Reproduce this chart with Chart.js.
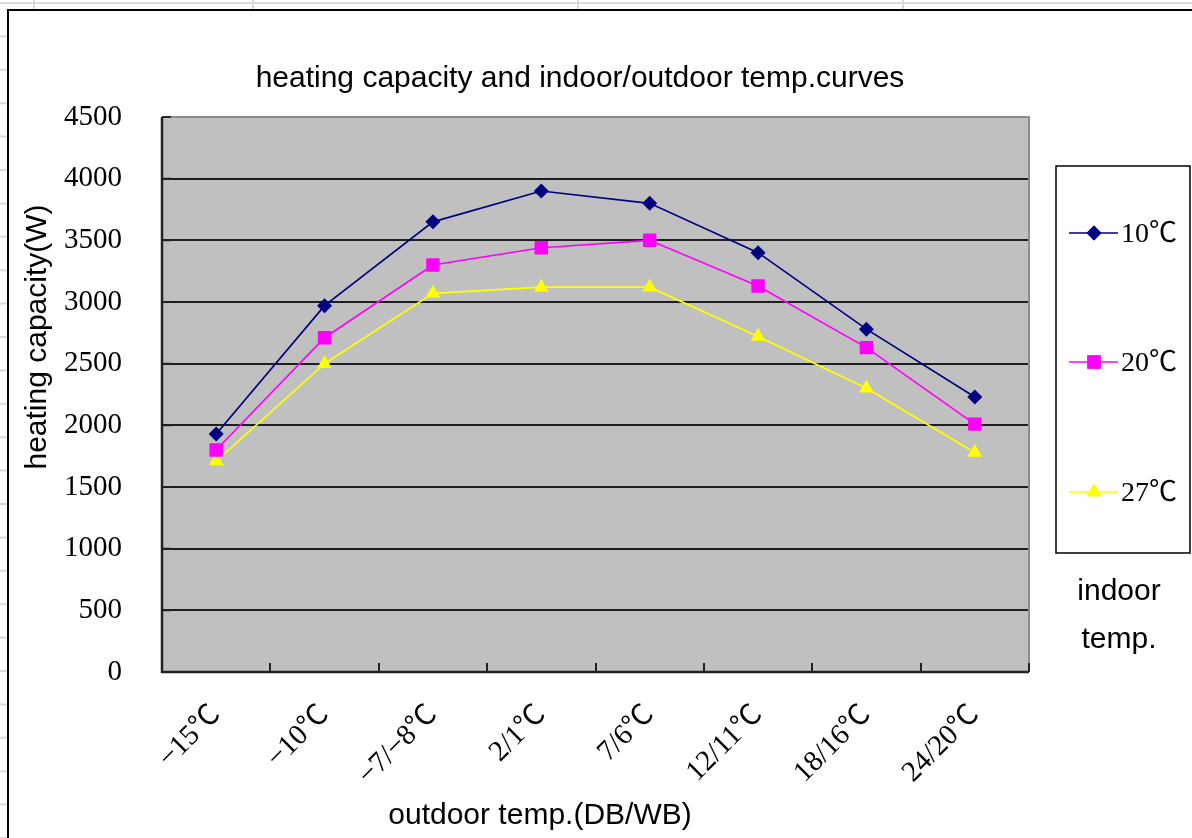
<!DOCTYPE html>
<html><head><meta charset="utf-8">
<script src="https://cdn.jsdelivr.net/npm/chart.js@4.4.1/dist/chart.umd.min.js"></script>
<style>html,body{margin:0;padding:0;background:#fff;overflow:hidden}#wrap{width:1192px;height:838px;position:relative}canvas{display:block}</style>
</head><body><div id="wrap"><canvas id="c" width="1192" height="838"></canvas></div>
<script>
// ---- data ----
const categories = ['−15℃', '−10℃', '−7/−8℃', '2/1℃', '7/6℃', '12/11℃', '18/16℃', '24/20℃'];
const seriesNames = ['10℃', '20℃', '27℃'];
const cap10 = [1930, 2970, 3650, 3900, 3800, 3400, 2780, 2230];
const cap20 = [1800, 2710, 3300, 3440, 3500, 3130, 2630, 2010];
const cap27 = [1710, 2500, 3070, 3120, 3120, 2720, 2300, 1780];
const yMin = 0, yMax = 4500, yStep = 500;
const chartTitle = 'heating capacity and indoor/outdoor temp.curves';
const yTitle = 'heating capacity(W)';
const xTitle = 'outdoor temp.(DB/WB)';
const legendTitle = ['indoor', 'temp.'];

const SANS = '"Liberation Sans", Arial, sans-serif';
const SERIF = '"Liberation Serif", "Times New Roman", "Noto Sans CJK SC", serif';

const decor = {
  id: 'decor',
  beforeDraw(chart) {
    const ctx = chart.ctx, a = chart.chartArea;
    ctx.save();
    ctx.fillStyle = '#fff';
    ctx.fillRect(0, 0, chart.width, chart.height);
    // spreadsheet grid behind the chart object
    ctx.strokeStyle = '#d9d9d9';
    ctx.lineWidth = 2;
    ctx.beginPath();
    ctx.moveTo(0, 3); ctx.lineTo(chart.width, 3);
    [34, 253, 578, 903].forEach(x => { ctx.moveTo(x, 0); ctx.lineTo(x, 9); });
    for (let y = 36.4; y < chart.height; y += 33.4) { ctx.moveTo(0, y); ctx.lineTo(8, y); }
    ctx.stroke();
    // chart object border
    ctx.strokeStyle = '#000';
    ctx.lineWidth = 2;
    ctx.beginPath();
    ctx.moveTo(8, chart.height); ctx.lineTo(8, 10); ctx.lineTo(chart.width, 10);
    ctx.stroke();
    // plot area fill
    ctx.fillStyle = '#c0c0c0';
    ctx.fillRect(a.left, a.top, a.right - a.left, a.bottom - a.top);
    ctx.restore();
  },
  beforeDatasetsDraw(chart) {
    const ctx = chart.ctx, a = chart.chartArea;
    const xs = chart.scales.x, ys = chart.scales.y;
    ctx.save();
    // gray top/right frame
    ctx.strokeStyle = '#8c8c8c';
    ctx.lineWidth = 2;
    ctx.beginPath();
    ctx.moveTo(a.left, a.top); ctx.lineTo(a.right, a.top); ctx.lineTo(a.right, a.bottom);
    ctx.stroke();
    // axis lines
    ctx.strokeStyle = '#222';
    ctx.lineWidth = 2.5;
    ctx.beginPath();
    ctx.moveTo(a.left, a.top); ctx.lineTo(a.left, a.bottom); ctx.lineTo(a.right, a.bottom);
    ctx.stroke();
    // inside tick marks
    ctx.lineWidth = 2;
    ctx.beginPath();
    const half = (xs.getPixelForValue(1) - xs.getPixelForValue(0)) / 2;
    for (let i = 0; i <= categories.length; i++) {
      const x = Math.round(xs.getPixelForValue(0) - half + i * 2 * half);
      ctx.moveTo(x, a.bottom); ctx.lineTo(x, a.bottom - 9);
    }
    for (let v = yMin; v <= yMax; v += yStep) {
      const y = ys.getPixelForValue(v);
      ctx.moveTo(a.left, y); ctx.lineTo(a.left + 9, y);
    }
    ctx.stroke();
    ctx.restore();
  },
  afterDraw(chart) {
    const ctx = chart.ctx;
    ctx.save();
    ctx.fillStyle = '#000';
    ctx.textAlign = 'center';
    ctx.textBaseline = 'alphabetic';
    ctx.font = '30px ' + SANS;
    ctx.fillText(chartTitle, 580, 87);
    ctx.fillText(xTitle, 540, 824);
    ctx.fillText(legendTitle[0], 1119, 600);
    ctx.fillText(legendTitle[1], 1119, 648);
    ctx.save();
    ctx.translate(46, 337);
    ctx.rotate(-Math.PI / 2);
    ctx.fillText(yTitle, 0, 0);
    ctx.restore();
    // legend box
    ctx.strokeStyle = '#000';
    ctx.lineWidth = 1.5;
    ctx.fillStyle = '#fff';
    ctx.fillRect(1056, 166, 134, 387);
    ctx.strokeRect(1056, 166, 134, 387);
    const rows = [233, 362, 492];
    chart.data.datasets.forEach((ds, i) => {
      const y = rows[i];
      ctx.strokeStyle = ds.borderColor;
      ctx.lineWidth = ds.borderWidth;
      ctx.beginPath(); ctx.moveTo(1069, y); ctx.lineTo(1118, y); ctx.stroke();
      ctx.fillStyle = ds.pointBackgroundColor;
      Chart.helpers.drawPoint(ctx, { pointStyle: ds.pointStyle, radius: ds.pointRadius, rotation: 0, borderWidth: 0 }, 1094, y);
      ctx.fill();
      ctx.fillStyle = '#000';
      ctx.textAlign = 'left';
      ctx.textBaseline = 'middle';
      ctx.font = '28px ' + SERIF;
      ctx.fillText(ds.label, 1121, y + 2);
    });
    ctx.restore();
  }
};

const ds = (label, data, color, style, r) => ({
  label, data, borderColor: color, borderWidth: 1.7,
  pointStyle: style, pointRadius: r, pointHoverRadius: r,
  pointBackgroundColor: color, pointBorderColor: color, pointBorderWidth: 0,
  tension: 0, fill: false
});

new Chart(document.getElementById('c'), {
  type: 'line',
  data: {
    labels: categories,
    datasets: [
      ds(seriesNames[0], cap10, '#000080', 'rectRot', 7.5),
      ds(seriesNames[1], cap20, '#ff00ff', 'rect', 9.5),
      ds(seriesNames[2], cap27, '#ffff00', 'triangle', 8.5)
    ]
  },
  options: {
    responsive: false,
    animation: false,
    devicePixelRatio: 1,
    layout: { padding: { left: 0, top: 117, right: 163, bottom: 0 } },
    plugins: { legend: { display: false }, title: { display: false }, tooltip: { enabled: false } },
    scales: {
      x: {
        type: 'category',
        offset: true,
        grid: { display: false, drawTicks: false },
        border: { display: false },
        ticks: { minRotation: 45, maxRotation: 45, color: '#000', padding: 26, font: { family: SERIF, size: 29 }, autoSkip: false },
        afterFit(s) { s.height = 166; }
      },
      y: {
        min: yMin, max: yMax,
        grid: {
          drawTicks: false, lineWidth: 2,
          color: c => (c.tick && (c.tick.value === yMin || c.tick.value === yMax)) ? 'rgba(0,0,0,0)' : '#1e1e1e'
        },
        border: { display: false },
        ticks: { stepSize: yStep, color: '#000', padding: 40, font: { family: SERIF, size: 29 }, callback: v => String(v) },
        afterFit(s) { s.width = 162; }
      }
    }
  },
  plugins: [decor]
});
</script>
</body></html>
